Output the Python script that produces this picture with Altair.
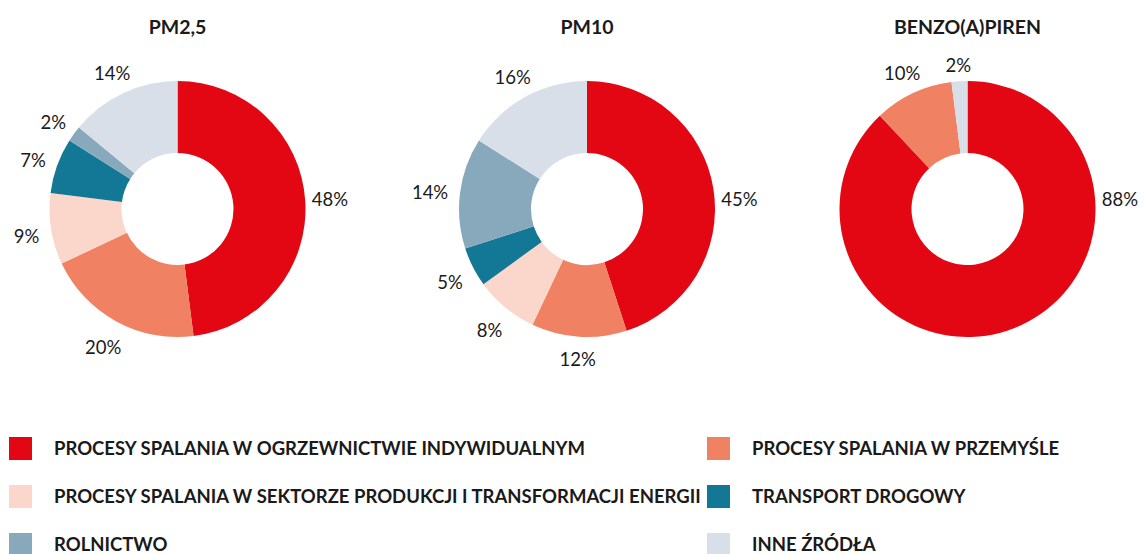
import altair as alt
import pandas as pd

# ---- data -------------------------------------------------------------
pollutants = ["PM2,5", "PM10", "BENZO(A)PIREN"]
sources = [
    "PROCESY SPALANIA W OGRZEWNICTWIE INDYWIDUALNYM",
    "PROCESY SPALANIA W PRZEMYŚLE",
    "PROCESY SPALANIA W SEKTORZE PRODUKCJI I TRANSFORMACJI ENERGII",
    "TRANSPORT DROGOWY",
    "ROLNICTWO",
    "INNE ŹRÓDŁA",
]
pm25_share = [48, 20, 9, 7, 2, 14]
pm10_share = [45, 12, 8, 5, 14, 16]
bap_share = [88, 10, 0, 0, 0, 2]
shares = [pm25_share, pm10_share, bap_share]

# ---- styles -----------------------------------------------------------
colors = ["#E30613", "#F08163", "#FBD7CB", "#127895", "#88A9BC", "#D9DFE9"]
TEXT = "#1a1a1a"
FONT = "Lato"
R_OUT, R_IN = 128, 56
H = 334
widths = [339, 480, 281]
DOMINANT_ANGLE = 1.486   # label of the dominant source sits at the right of each ring
DOMINANT_RADIUS = 153

legend = alt.Legend(
    title=None, orient="none", legendX=1, legendY=395, columns=2,
    direction="horizontal",
    columnPadding=4, rowPadding=25, symbolType="square", symbolSize=529,
    symbolStrokeWidth=0, symbolOpacity=1, labelFont=FONT, labelFontSize=18.5,
    labelFontWeight="bold", labelColor=TEXT, labelLimit=1000, labelOffset=22,
    padding=0,
)


def donut(name, values, w):
    df = pd.DataFrame({"source": sources, "value": values,
                       "idx": list(range(len(sources)))})
    df = df[df["value"] > 0]
    base = alt.Chart(df)
    arcs = base.mark_arc(outerRadius=R_OUT, innerRadius=R_IN).encode(
        theta=alt.Theta("value:Q", stack=True),
        color=alt.Color("source:N", scale=alt.Scale(domain=sources, range=colors),
                        legend=legend),
        order=alt.Order("idx:Q"),
    )
    labels = base.transform_window(
        cum="sum(value)", sort=[alt.SortField("idx")], frame=[None, 0]
    ).transform_joinaggregate(total="sum(value)").transform_calculate(
        label="datum.value + '%'"
    ).transform_calculate(
        mid="2*PI*(datum.cum - datum.value/2)/datum.total"
    ).transform_calculate(
        ang=f"datum.idx == 0 ? {DOMINANT_ANGLE} : datum.mid"
    ).transform_calculate(
        hw="(length(datum.label)-1)*5.5 + 6.5"
    ).transform_calculate(
        r=(f"datum.idx == 0 ? {DOMINANT_RADIUS} : "
           f"{R_OUT + 12} + datum.hw*abs(sin(datum.ang)) + 6.7*abs(cos(datum.ang))")
    ).mark_text(font=FONT, fontSize=18.5, color=TEXT, dy=4).encode(
        theta=alt.Theta("ang:Q", scale=None, stack=None),
        radius=alt.Radius("r:Q", scale=None),
        text="label:N",
    )
    return alt.layer(arcs, labels).properties(width=w, height=H, title=name)


charts = [donut(n, v, w) for n, v, w in zip(pollutants, shares, widths)]

chart = alt.hconcat(
    *charts, spacing=0, bounds="flush",
    padding={"top": 9, "left": 0, "right": 0, "bottom": 0},
).configure_view(
    strokeWidth=0
).configure_title(
    font=FONT, fontSize=19.5, fontWeight="bold", color=TEXT, anchor="middle", offset=0
)

chart.save("out.html", embed_options={"renderer": "svg", "actions": False})
